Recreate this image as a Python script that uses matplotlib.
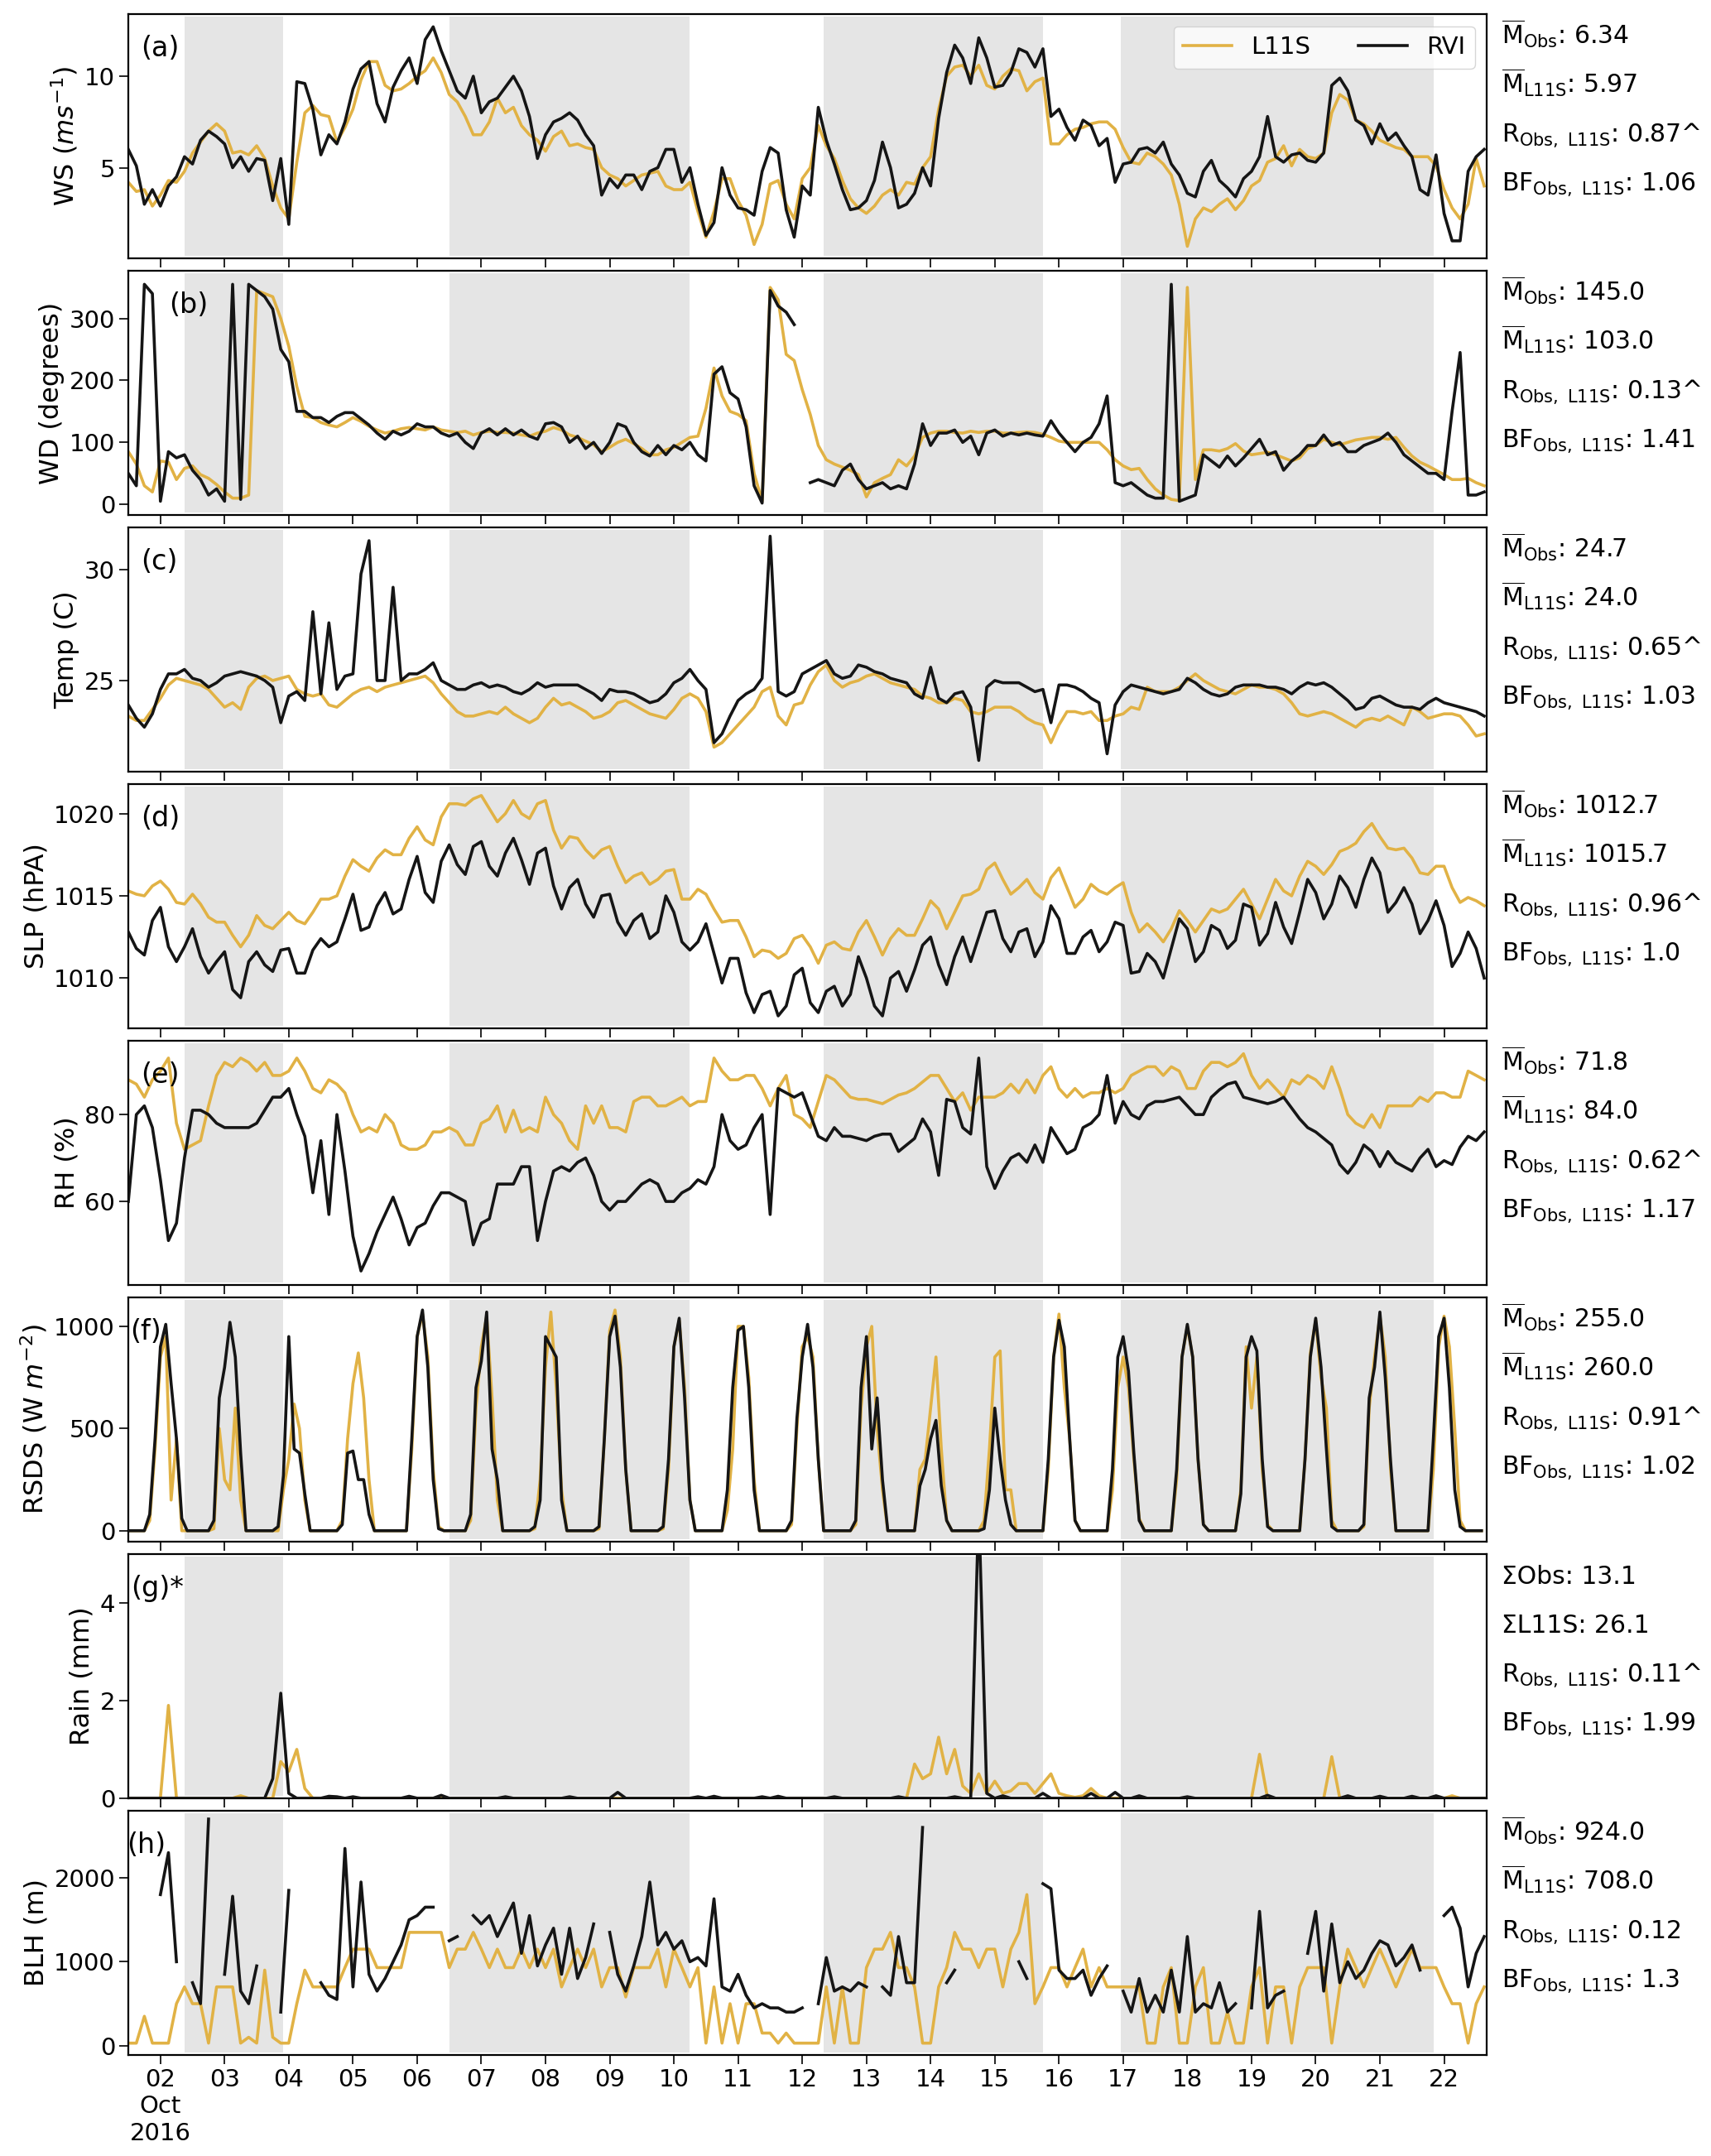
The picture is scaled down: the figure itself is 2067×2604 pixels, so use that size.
import numpy as np
import matplotlib
matplotlib.use("Agg")
import matplotlib.pyplot as plt
import matplotlib.dates as mdates
from matplotlib.ticker import FuncFormatter
from datetime import datetime, timedelta

nan = np.nan

# ---------------- data (3-hourly from 2016-10-01 12:00, one row per day) ----------------
ws_l11s = [4.2, 3.7, 3.8, 2.9,
           3.5, 4.3, 4.2, 4.8, 5.8, 6.4, 7.0, 7.4,
           7.0, 5.8, 5.9, 5.7, 6.2, 5.5, 4.0, 2.8,
           2.2, 5.3, 8.0, 8.4, 7.9, 7.8, 6.4, 7.2,
           8.2, 9.8, 10.8, 10.8, 9.5, 9.2, 9.3, 9.6,
           10.0, 10.3, 11.0, 10.2, 9.0, 8.6, 7.8, 6.8,
           6.8, 7.5, 8.8, 8.0, 8.3, 7.3, 6.8, 6.5,
           5.9, 6.7, 7.0, 6.2, 6.3, 6.1, 6.0, 5.0,
           4.6, 4.4, 4.0, 4.3, 4.6, 4.7, 4.8, 4.0,
           3.8, 3.8, 4.2, 2.6, 1.2, 2.6, 4.4, 4.4,
           3.2, 2.4, 0.8, 1.9, 4.1, 4.3, 3.0, 2.2,
           4.4, 5.0, 7.3, 6.2, 5.5, 4.3, 3.3, 2.8,
           2.5, 2.9, 3.5, 3.8, 3.5, 4.2, 4.1, 5.0,
           5.6, 8.2, 10.0, 10.5, 10.6, 10.0, 10.6, 9.5,
           9.3, 10.0, 10.4, 10.3, 9.2, 9.7, 9.9, 6.3,
           6.3, 6.8, 7.1, 7.2, 7.4, 7.5, 7.5, 7.1,
           6.1, 5.3, 5.2, 5.8, 5.6, 5.2, 4.6, 3.0,
           0.7, 2.2, 2.8, 2.6, 3.0, 3.3, 2.7, 3.2,
           4.0, 4.3, 5.3, 5.5, 6.2, 5.1, 6.0, 5.6,
           5.5, 5.8, 8.0, 9.0, 8.7, 7.6, 7.4, 7.0,
           6.5, 6.3, 6.1, 6.0, 5.6, 5.6, 5.6, 5.1,
           3.8, 2.8, 2.2, 3.0, 5.5, 4.0]
ws_rvi = [6.0, 5.1, 3.0, 3.8,
          2.9, 4.0, 4.5, 5.6, 5.2, 6.5, 7.0, 6.7,
          6.3, 5.0, 5.6, 4.8, 5.5, 5.4, 3.2, 5.5,
          1.9, 9.7, 9.6, 8.2, 5.7, 6.8, 6.3, 7.5,
          9.3, 10.4, 10.8, 8.5, 7.5, 9.4, 10.3, 11.0,
          9.6, 12.0, 12.7, 11.4, 10.3, 9.2, 8.8, 10.0,
          8.0, 8.6, 8.8, 9.4, 10.0, 9.2, 7.8, 5.5,
          6.8, 7.5, 7.7, 8.0, 7.6, 6.8, 6.2, 3.5,
          4.4, 3.9, 4.6, 4.6, 3.8, 4.8, 5.0, 6.0,
          6.0, 4.2, 5.0, 3.0, 1.3, 2.0, 5.0, 3.5,
          2.8, 2.7, 2.4, 4.8, 6.1, 5.8, 2.7, 1.2,
          4.0, 3.5, 8.3, 6.5, 5.2, 3.8, 2.7, 2.8,
          3.2, 4.3, 6.4, 5.0, 2.8, 3.0, 3.6, 5.0,
          4.0, 7.7, 10.2, 11.7, 11.0, 9.6, 12.1, 11.0,
          9.4, 9.5, 10.2, 11.5, 11.3, 10.5, 11.5, 7.8,
          8.2, 7.2, 6.5, 7.6, 7.3, 6.2, 6.6, 4.2,
          5.2, 5.3, 6.0, 6.1, 5.8, 6.4, 5.2, 4.6,
          3.6, 3.4, 4.8, 5.4, 4.3, 3.9, 3.4, 4.4,
          4.8, 5.6, 7.8, 5.6, 5.3, 5.7, 5.8, 5.4,
          5.3, 5.8, 9.5, 9.9, 9.2, 7.6, 7.3, 6.3,
          7.4, 6.5, 6.9, 6.2, 5.6, 3.8, 3.5, 5.7,
          2.5, 1.0, 1.0, 4.8, 5.6, 6.0]

wd_l11s = [85, 65, 30, 20,
           70, 68, 40, 58, 62, 48, 42, 32,
           20, 10, 10, 15, 345, 340, 335, 300,
           255, 190, 142, 140, 132, 128, 125, 132,
           140, 134, 126, 120, 115, 118, 122, 124,
           122, 120, 125, 120, 118, 116, 118, 112,
           116, 118, 116, 116, 115, 112, 110, 115,
           118, 124, 120, 112, 108, 102, 96, 85,
           92, 100, 105, 98, 90, 80, 80, 88,
           92, 100, 108, 110, 155, 220, 175, 150,
           145, 135, 50, 5, 350, 330, 242, 232,
           185, 145, 95, 72, 65, 60, 55, 48,
           12, 35, 42, 48, 72, 62, 78, 108,
           115, 118, 118, 116, 115, 118, 116, 118,
           118, 115, 115, 116, 117, 116, 113, 108,
           102, 100, 100, 100, 100, 100, 88, 72,
           62, 56, 58, 40, 25, 15, 8, 6,
           350, 40, 88, 88, 86, 90, 98, 86,
           80, 82, 84, 80, 75, 70, 75, 90,
           95, 105, 100, 96, 100, 104, 106, 108,
           108, 105, 108, 92, 78, 68, 62, 55,
           48, 40, 40, 42, 35, 30]
wd_rvi = [50, 30, 355, 340,
          5, 85, 75, 80, 55, 40, 15, 25,
          5, 355, 8, 355, 345, 335, 315, 250,
          230, 150, 150, 140, 140, 132, 142, 148,
          148, 138, 128, 115, 105, 118, 112, 118,
          130, 125, 125, 115, 110, 115, 100, 90,
          115, 122, 112, 122, 112, 120, 110, 105,
          130, 132, 125, 100, 110, 90, 100, 82,
          100, 130, 125, 100, 85, 78, 95, 80,
          95, 88, 100, 80, 70, 210, 222, 180,
          170, 125, 30, 2, 345, 320, 310, 290,
          nan, 35, 40, 35, 30, 55, 65, 40,
          25, 30, 35, 25, 30, 25, 65, 130,
          95, 115, 115, 120, 100, 110, 80, 115,
          120, 110, 115, 112, 115, 112, 110, 135,
          115, 100, 85, 100, 108, 130, 175, 35,
          30, 35, 25, 15, 10, 10, 355, 5,
          10, 15, 80, 70, 60, 78, 62, 75,
          90, 105, 80, 85, 55, 70, 80, 95,
          95, 112, 95, 100, 85, 85, 95, 100,
          105, 115, 100, 80, 70, 60, 50, 50,
          40, 150, 245, 15, 15, 20]

t_l11s = [23.4, 23.2, 23.2, 23.7,
          24.2, 24.8, 25.1, 25.0, 24.9, 24.8, 24.6, 24.2,
          23.8, 24.0, 23.7, 24.7, 25.1, 25.2, 25.0, 25.1,
          25.2, 24.6, 24.4, 24.3, 24.4, 23.9, 23.8, 24.1,
          24.4, 24.6, 24.7, 24.5, 24.7, 24.8, 24.9, 25.0,
          25.1, 25.2, 24.9, 24.4, 24.0, 23.6, 23.4, 23.4,
          23.5, 23.6, 23.5, 23.8, 23.5, 23.3, 23.1, 23.3,
          23.8, 24.2, 23.9, 24.0, 23.8, 23.6, 23.3, 23.4,
          23.6, 24.0, 24.1, 23.9, 23.7, 23.5, 23.4, 23.3,
          23.7, 24.2, 24.4, 24.2, 23.6, 22.0, 22.2, 22.6,
          23.0, 23.4, 23.8, 24.5, 24.7, 23.4, 23.0, 23.9,
          24.0, 24.8, 25.4, 25.7, 25.0, 24.7, 24.9, 25.0,
          25.2, 25.3, 25.1, 24.9, 24.8, 24.7, 24.6, 24.3,
          24.2, 24.0, 24.0, 24.2, 24.1, 23.6, 23.5, 23.6,
          23.8, 23.8, 23.8, 23.6, 23.3, 23.1, 23.0, 22.2,
          23.0, 23.6, 23.6, 23.5, 23.6, 23.2, 23.2, 23.4,
          23.5, 23.8, 23.7, 24.7, 24.5, 24.5, 24.5, 24.7,
          25.0, 25.3, 25.0, 24.8, 24.6, 24.5, 24.4, 24.6,
          24.8, 24.7, 24.7, 24.6, 24.4, 24.0, 23.5, 23.4,
          23.5, 23.6, 23.5, 23.3, 23.1, 22.9, 23.2, 23.3,
          23.2, 23.4, 23.2, 23.0, 23.8, 23.6, 23.3, 23.4,
          23.5, 23.5, 23.4, 23.0, 22.5, 22.6]
t_rvi = [23.9, 23.3, 22.9, 23.5,
         24.6, 25.3, 25.3, 25.5, 25.1, 25.0, 24.7, 24.9,
         25.2, 25.3, 25.4, 25.3, 25.2, 25.0, 24.7, 23.1,
         24.3, 24.5, 24.1, 28.1, 24.4, 27.6, 24.6, 25.2,
         25.3, 29.8, 31.3, 25.0, 25.0, 29.2, 25.0, 25.3,
         25.3, 25.5, 25.8, 25.0, 24.8, 24.6, 24.6, 24.8,
         24.9, 24.7, 24.8, 24.7, 24.5, 24.4, 24.6, 24.9,
         24.7, 24.8, 24.8, 24.8, 24.8, 24.6, 24.4, 24.1,
         24.6, 24.5, 24.5, 24.4, 24.2, 24.0, 24.1, 24.4,
         24.9, 25.1, 25.5, 25.0, 24.6, 22.2, 22.6, 23.4,
         24.1, 24.4, 24.6, 25.1, 31.5, 24.5, 24.3, 24.5,
         25.3, 25.5, 25.7, 25.9, 25.3, 25.1, 25.2, 25.7,
         25.6, 25.4, 25.3, 25.1, 25.0, 24.9, 24.4, 24.2,
         25.6, 24.2, 24.0, 24.4, 24.5, 23.8, 21.4, 24.7,
         25.0, 24.9, 24.9, 24.9, 24.7, 24.5, 24.6, 23.1,
         24.8, 24.8, 24.7, 24.5, 24.2, 24.0, 21.7, 23.9,
         24.5, 24.8, 24.7, 24.6, 24.5, 24.4, 24.5, 24.6,
         25.1, 24.9, 24.6, 24.4, 24.3, 24.4, 24.7, 24.8,
         24.8, 24.8, 24.7, 24.7, 24.6, 24.4, 24.7, 24.9,
         24.8, 24.9, 24.7, 24.4, 24.1, 23.7, 23.8, 24.2,
         24.3, 24.1, 23.9, 23.8, 23.8, 23.7, 24.0, 24.2,
         24.0, 23.9, 23.8, 23.7, 23.6, 23.4]

slp_l11s = [1015.3, 1015.1, 1015.0, 1015.6,
            1015.9, 1015.4, 1014.6, 1014.5, 1015.1, 1014.5, 1013.7, 1013.4,
            1013.4, 1012.6, 1011.9, 1012.6, 1013.8, 1013.2, 1013.0, 1013.5,
            1014.0, 1013.5, 1013.3, 1014.0, 1014.8, 1014.8, 1015.0, 1016.2,
            1017.2, 1016.8, 1016.5, 1017.3, 1017.8, 1017.5, 1017.5, 1018.5,
            1019.2, 1018.4, 1018.1, 1019.8, 1020.6, 1020.6, 1020.5, 1020.9,
            1021.1, 1020.3, 1019.5, 1020.0, 1020.8, 1020.0, 1019.7, 1020.6,
            1020.8, 1019.0, 1017.9, 1018.6, 1018.5, 1017.8, 1017.3, 1017.8,
            1018.0, 1016.8, 1015.8, 1016.2, 1016.4, 1015.7, 1016.0, 1016.5,
            1016.6, 1014.8, 1014.8, 1015.4, 1015.1, 1014.2, 1013.4, 1013.5,
            1013.5, 1012.5, 1011.3, 1011.7, 1011.6, 1011.2, 1011.5, 1012.4,
            1012.6, 1011.9, 1010.9, 1012.0, 1012.2, 1011.8, 1011.7, 1012.8,
            1013.5, 1012.5, 1011.4, 1012.4, 1013.0, 1012.6, 1012.6, 1013.6,
            1014.7, 1014.2, 1013.0, 1014.0, 1015.0, 1015.1, 1015.4, 1016.6,
            1017.0, 1016.0, 1015.1, 1015.5, 1016.0, 1015.2, 1014.8, 1016.1,
            1016.7, 1015.5, 1014.3, 1014.8, 1015.7, 1015.3, 1015.1, 1015.5,
            1015.8, 1014.0, 1012.8, 1013.3, 1012.8, 1012.2, 1013.0, 1014.1,
            1013.5, 1012.8, 1013.5, 1014.2, 1014.0, 1014.2, 1014.8, 1015.4,
            1014.5, 1013.6, 1014.8, 1016.0, 1015.3, 1015.0, 1016.2, 1017.1,
            1016.8, 1016.3, 1016.9, 1017.7, 1017.9, 1018.2, 1018.9, 1019.4,
            1018.6, 1017.9, 1017.8, 1017.9, 1017.3, 1016.4, 1016.3, 1016.8,
            1016.8, 1015.5, 1014.6, 1014.9, 1014.7, 1014.4]
slp_rvi = [1012.8, 1011.8, 1011.4, 1013.5,
           1014.3, 1011.9, 1011.0, 1011.9, 1013.0, 1011.3, 1010.3, 1011.0,
           1011.6, 1009.3, 1008.8, 1011.0, 1011.6, 1010.8, 1010.4, 1011.7,
           1011.8, 1010.3, 1010.3, 1011.7, 1012.4, 1011.9, 1012.2, 1013.6,
           1015.1, 1012.9, 1013.1, 1014.4, 1015.2, 1013.9, 1014.2, 1016.0,
           1017.4, 1015.2, 1014.6, 1017.1, 1018.1, 1016.9, 1016.3, 1018.0,
           1018.3, 1016.8, 1016.2, 1017.6, 1018.5, 1017.2, 1015.7, 1017.6,
           1017.9, 1015.6, 1014.2, 1015.5, 1016.0, 1014.5, 1013.7, 1015.0,
           1015.1, 1013.4, 1012.6, 1013.5, 1013.9, 1012.4, 1012.8, 1015.0,
           1014.0, 1012.2, 1011.7, 1012.2, 1013.3, 1011.5, 1009.7, 1011.2,
           1011.2, 1009.1, 1007.9, 1009.0, 1009.2, 1007.7, 1008.3, 1010.2,
           1010.6, 1008.5, 1007.9, 1009.2, 1009.5, 1008.3, 1009.0, 1011.3,
           1010.0, 1008.3, 1007.7, 1010.0, 1010.4, 1009.2, 1010.5, 1012.0,
           1012.5, 1010.8, 1009.6, 1011.3, 1012.5, 1011.0, 1012.5, 1014.0,
           1014.1, 1012.4, 1011.6, 1012.8, 1013.0, 1011.3, 1012.2, 1014.4,
           1013.6, 1011.5, 1011.5, 1012.5, 1012.9, 1011.6, 1012.2, 1013.4,
           1013.2, 1010.3, 1010.4, 1011.5, 1011.0, 1010.0, 1011.8, 1013.6,
           1013.0, 1011.0, 1011.6, 1013.2, 1012.9, 1011.8, 1012.3, 1014.5,
           1014.3, 1012.0, 1012.7, 1014.6, 1013.1, 1012.1, 1014.0, 1016.0,
           1015.2, 1013.6, 1014.5, 1016.2, 1015.5, 1014.3, 1016.0, 1017.3,
           1016.4, 1014.0, 1014.6, 1015.5, 1014.5, 1012.7, 1013.5, 1014.7,
           1013.2, 1010.7, 1011.5, 1012.8, 1011.8, 1010.0]

rh_l11s = [88, 87, 84, 88,
           90, 93, 78, 72, 73, 74, 82, 89,
           92, 91, 93, 92, 90, 92, 89, 89,
           90, 93, 90, 86, 85, 88, 87, 85,
           80, 76, 77, 76, 80, 78, 73, 72,
           72, 73, 76, 76, 77, 76, 73, 73,
           78, 79, 82, 76, 81, 76, 77, 76,
           84, 80, 78, 74, 72, 82, 78, 82,
           77, 77, 76, 83, 84, 84, 82, 82,
           83, 84, 82, 83, 83, 93, 90, 88,
           88, 89, 89, 86, 82, 86, 89, 80,
           79, 77, 83, 89, 88, 86, 84, 83.5,
           83.5, 83, 82.5, 83.5, 84.5, 85, 86, 87.5,
           89, 89, 86, 83, 85, 81, 84, 84,
           84, 85, 87, 85, 88, 85, 89, 91,
           86, 84, 86, 84, 85, 85, 86, 85,
           86, 89, 90, 91, 91, 89, 91, 90,
           86, 86, 90, 92, 92, 91, 92, 94,
           89, 86, 88, 86, 84, 88, 87, 89,
           88, 86, 91, 86, 80, 78, 77, 80,
           77, 82, 82, 82, 82, 84, 83, 85,
           85, 84, 84, 90, 89, 88]
rh_rvi = [60, 80, 82, 77,
          65, 51, 55, 70, 81, 81, 80, 78,
          77, 77, 77, 77, 78, 81, 84, 84,
          86, 80, 75, 62, 74, 57, 80, 67,
          52, 44, 48, 53, 57, 61, 56, 50,
          54, 55, 59, 62, 62, 61, 60, 50,
          55, 56, 64, 64, 64, 68, 68, 51,
          60, 67, 68, 67, 69, 70, 66, 60,
          58, 60, 60, 62, 64, 65, 64, 60,
          60, 62, 63, 65, 64, 68, 80, 74,
          72, 73, 77, 80, 57, 86, 85, 84,
          85, 80, 75, 74, 77, 75, 75, 74.5,
          74, 75, 75.5, 75.5, 71.5, 73, 74.5, 79,
          76, 66, 83.5, 83, 77, 75.5, 93, 68,
          63, 67, 70, 71, 69, 73, 69, 77,
          74, 71, 72, 77, 78, 80, 89, 78,
          83, 80, 79, 82, 83, 83, 83.5, 84,
          82, 80, 80, 84, 85.7, 87, 87.5, 84,
          83.5, 83, 82.5, 83, 84, 81.5, 79, 77,
          76, 74.5, 73, 68.5, 66.5, 69, 73, 71.5,
          68, 71.5, 69, 68, 67, 70, 72, 68,
          69.4, 68.5, 72.5, 75, 74, 76]

# RSDS: 2-hourly from 2016-10-01 12:00 (rows: 12,14,16,18,20,22,00,02,04,06,08,10 h)
rsds_l11s = [0, 0, 0, 0, 50, 400, 850, 950, 150, 450, 0, 0,
             0, 0, 0, 0, 10, 500, 250, 200, 600, 150, 0, 0,
             0, 0, 0, 0, 0, 200, 350, 620, 500, 150, 0, 0,
             0, 0, 0, 0, 50, 450, 720, 870, 650, 250, 0, 0,
             0, 0, 0, 0, 0, 400, 950, 1060, 850, 300, 20, 0,
             0, 0, 0, 0, 50, 600, 900, 1050, 650, 150, 0, 0,
             0, 0, 0, 0, 10, 250, 800, 1070, 700, 200, 0, 0,
             0, 0, 0, 0, 10, 450, 980, 1080, 850, 300, 0, 0,
             0, 0, 0, 0, 10, 300, 900, 1030, 700, 150, 0, 0,
             0, 0, 0, 0, 100, 400, 1000, 1000, 750, 250, 0, 0,
             0, 0, 0, 0, 30, 500, 900, 950, 850, 350, 0, 0,
             0, 0, 0, 0, 30, 600, 900, 1000, 500, 200, 0, 0,
             0, 0, 0, 0, 300, 350, 600, 850, 400, 50, 0, 0,
             0, 0, 0, 0, 50, 400, 850, 880, 200, 200, 0, 0,
             0, 0, 0, 0, 300, 850, 1060, 700, 450, 50, 0, 0,
             0, 0, 0, 0, 200, 700, 850, 700, 350, 60, 0, 0,
             0, 0, 0, 0, 250, 850, 1000, 850, 350, 30, 0, 0,
             0, 0, 0, 0, 200, 900, 600, 850, 300, 30, 0, 0,
             0, 0, 0, 0, 350, 870, 1030, 750, 600, 50, 0, 0,
             0, 0, 0, 20, 600, 850, 1050, 850, 300, 0, 0, 0,
             0, 0, 0, 0, 300, 900, 1050, 900, 500, 50, 0, 0, 0, 0]
rsds_rvi = [0, 0, 0, 0, 80, 450, 900, 1010, 720, 450, 60, 0,
            0, 0, 0, 0, 50, 650, 800, 1020, 850, 380, 0, 0,
            0, 0, 0, 0, 20, 270, 950, 400, 380, 180, 0, 0,
            0, 0, 0, 0, 30, 380, 390, 250, 250, 80, 0, 0,
            0, 0, 0, 0, 0, 450, 950, 1080, 800, 250, 10, 0,
            0, 0, 0, 0, 80, 700, 830, 1070, 400, 250, 0, 0,
            0, 0, 0, 0, 20, 150, 950, 900, 850, 150, 0, 0,
            0, 0, 0, 0, 20, 450, 950, 1050, 800, 300, 0, 0,
            0, 0, 0, 0, 20, 350, 900, 1040, 650, 150, 0, 0,
            0, 0, 0, 0, 200, 700, 980, 1000, 700, 200, 0, 0,
            0, 0, 0, 0, 50, 550, 850, 1010, 800, 350, 0, 0,
            0, 0, 0, 0, 50, 700, 950, 400, 650, 250, 0, 0,
            0, 0, 0, 0, 220, 300, 450, 540, 220, 50, 0, 0,
            0, 0, 0, 0, 10, 200, 600, 350, 150, 30, 0, 0,
            0, 0, 0, 0, 350, 850, 1030, 900, 450, 50, 0, 0,
            0, 0, 0, 0, 300, 850, 950, 780, 380, 50, 0, 0,
            0, 0, 0, 0, 300, 850, 1010, 850, 350, 30, 0, 0,
            0, 0, 0, 0, 180, 850, 950, 880, 350, 20, 0, 0,
            0, 0, 0, 0, 350, 850, 1040, 800, 400, 20, 0, 0,
            0, 0, 0, 30, 650, 800, 1070, 750, 340, 0, 0, 0,
            0, 0, 0, 0, 450, 950, 1040, 700, 200, 20, 0, 0, 0, 0]

rain_l11s = [0, 0, 0, 0,
             0, 1.9, 0, 0, 0, 0, 0, 0,
             0, 0, 0.05, 0, 0, 0, 0, 0.75,
             0.55, 1.0, 0.2, 0, 0, 0, 0, 0,
             0, 0, 0, 0, 0, 0, 0, 0,
             0, 0, 0, 0, 0, 0, 0, 0,
             0, 0, 0, 0, 0, 0, 0, 0,
             0, 0, 0, 0, 0, 0, 0, 0,
             0, 0, 0, 0, 0, 0, 0, 0,
             0, 0, 0, 0, 0, 0, 0, 0,
             0, 0, 0, 0, 0, 0, 0, 0,
             0, 0, 0, 0, 0, 0, 0, 0,
             0, 0, 0, 0, 0, 0, 0.7, 0.4,
             0.5, 1.25, 0.5, 1.0, 0.25, 0.1, 0.5, 0.1,
             0.35, 0.1, 0.15, 0.3, 0.3, 0.1, 0.3, 0.5,
             0.1, 0.05, 0.02, 0.05, 0.2, 0.05, 0, 0,
             0, 0, 0, 0, 0, 0, 0, 0,
             0, 0, 0, 0, 0, 0, 0, 0,
             0, 0.9, 0, 0, 0, 0, 0, 0,
             0, 0, 0.85, 0, 0, 0, 0, 0,
             0, 0, 0, 0, 0, 0, 0, 0,
             0, 0.05, 0, 0, 0, 0]
rain_rvi = [0, 0, 0, 0,
            0, 0, 0, 0, 0, 0, 0, 0,
            0, 0, 0, 0, 0, 0, 0.4, 2.15,
            0.1, 0, 0, 0, 0, 0.04, 0.03, 0,
            0.03, 0, 0, 0, 0, 0, 0, 0.04,
            0, 0, 0, 0.06, 0, 0, 0, 0,
            0, 0, 0, 0.03, 0, 0, 0, 0,
            0, 0, 0, 0.03, 0, 0, 0, 0,
            0, 0.12, 0, 0, 0, 0, 0, 0,
            0, 0, 0, 0.03, 0, 0.04, 0, 0,
            0, 0, 0, 0.03, 0, 0.04, 0, 0,
            0, 0, 0, 0, 0.03, 0, 0, 0,
            0, 0, 0, 0, 0.03, 0, 0, 0,
            0, 0, 0, 0.03, 0, 0, 6.0, 0.1,
            0, 0.05, 0, 0, 0, 0, 0.1, 0,
            0, 0, 0, 0, 0.1, 0, 0, 0.12,
            0, 0, 0.05, 0, 0, 0, 0, 0,
            0.03, 0, 0, 0, 0, 0, 0, 0,
            0, 0, 0.06, 0, 0, 0, 0, 0,
            0, 0, 0, 0, 0.05, 0, 0, 0,
            0.04, 0, 0, 0, 0.04, 0, 0, 0.05,
            0, 0, 0, 0, 0, 0]

blh_l11s = [30, 30, 350, 30,
            30, 30, 500, 700, 500, 500, 30, 700,
            700, 700, 30, 100, 30, 900, 100, 30,
            30, 500, 900, 700, 700, 700, 700, 930,
            1150, 1150, 1150, 930, 930, 930, 930, 1350,
            1350, 1350, 1350, 1350, 930, 1150, 1150, 1350,
            1150, 930, 1150, 930, 930, 1150, 930, 1150,
            930, 1150, 700, 930, 1150, 930, 1150, 700,
            930, 930, 580, 930, 930, 930, 1150, 700,
            1150, 930, 700, 930, 30, 700, 30, 500,
            30, 500, 500, 150, 150, 30, 150, 30,
            30, 30, 30, 700, 30, 700, 30, 30,
            930, 1150, 1150, 1350, 930, 930, 700, 30,
            30, 700, 930, 1350, 1150, 1150, 930, 1150,
            1150, 700, 1150, 1350, 1800, 500, 700, 930,
            930, 700, 930, 1150, 700, 930, 700, 700,
            700, 700, 700, 30, 30, 700, 930, 30,
            30, 700, 930, 30, 30, 400, 30, 30,
            700, 930, 30, 700, 700, 30, 700, 930,
            930, 930, 30, 700, 1150, 930, 700, 930,
            1150, 930, 700, 930, 1150, 930, 930, 930,
            700, 500, 500, 30, 500, 700]
blh_rvi = [nan, nan, nan, nan,
           1800, 2300, 1000, nan, 750, 500, 2700, nan,
           850, 1780, 650, 500, 950, nan, nan, 400,
           1850, nan, nan, nan, 750, 600, 550, 2350,
           700, 1950, 850, 650, 800, 1000, 1200, 1500,
           1550, 1650, 1650, nan, 1250, 1300, nan, 1550,
           1450, 1550, 1300, 1500, 1700, 1100, 1550, 950,
           1200, 1400, 850, 1400, 800, 1050, 1450, nan,
           1350, 850, 650, 950, 1300, 1950, 1200, 1350,
           1150, 1250, 1000, 1050, 950, 1750, 700, 650,
           850, 600, 450, 500, 450, 450, 400, 400,
           450, nan, 500, 1050, 650, 700, 650, 750,
           700, nan, 700, 600, 1300, 750, 750, 2600,
           nan, nan, 750, 900, nan, nan, nan, nan,
           nan, nan, nan, 1000, 800, nan, 1930, 1870,
           900, 800, 800, 900, 600, 800, 950, nan,
           650, 400, 800, 400, 600, 400, 900, 400,
           1300, 400, 500, 450, 750, 400, 500, nan,
           450, 1600, 450, 600, 650, nan, nan, 1100,
           1600, 650, 1450, 750, 1000, 800, 900, 1100,
           1250, 1200, 950, 1050, 1200, 900, nan, nan,
           1550, 1650, 1400, 700, 1100, 1300]

# statistics shown at right of each panel
stats_a = ['6.34', '5.97', '0.87^', '1.06']
stats_b = ['145.0', '103.0', '0.13^', '1.41']
stats_c = ['24.7', '24.0', '0.65^', '1.03']
stats_d = ['1012.7', '1015.7', '0.96^', '1.0']
stats_e = ['71.8', '84.0', '0.62^', '1.17']
stats_f = ['255.0', '260.0', '0.91^', '1.02']
stats_g = ['13.1', '26.1', '0.11^', '1.99']
stats_h = ['924.0', '708.0', '0.12', '1.3']

# shaded periods
shade_periods = [(datetime(2016, 10, 2, 9), datetime(2016, 10, 3, 22)),
                 (datetime(2016, 10, 6, 12), datetime(2016, 10, 10, 6)),
                 (datetime(2016, 10, 12, 8), datetime(2016, 10, 15, 18)),
                 (datetime(2016, 10, 16, 23), datetime(2016, 10, 21, 20))]

# ---------------- plotting ----------------
plt.rcParams['font.family'] = ['DejaVu Sans']
plt.rcParams['mathtext.default'] = 'regular'

GOLD = '#E1B245'
BLACK = '#151515'
SHADE = '#e5e5e5'

start = datetime(2016, 10, 1, 12)


def times(n, step_h):
    return [start + timedelta(hours=step_h * k) for k in range(n)]


panels = [
    (ws_l11s, ws_rvi, 3, r'WS ($\mathit{ms}^{-1}$)', [5, 10], (0.05, 13.4), '(a)', 0.009, stats_a),
    (wd_l11s, wd_rvi, 3, 'WD (degrees)', [0, 100, 200, 300], (-17, 377), '(b)', 0.030, stats_b),
    (t_l11s, t_rvi, 3, 'Temp (C)', [25, 30], (20.9, 31.9), '(c)', 0.009, stats_c),
    (slp_l11s, slp_rvi, 3, 'SLP (hPA)', [1010, 1015, 1020], (1006.95, 1021.8), '(d)', 0.009, stats_d),
    (rh_l11s, rh_rvi, 3, 'RH (%)', [60, 80], (40.8, 97.0), '(e)', 0.009, stats_e),
    (rsds_l11s, rsds_rvi, 2, r'RSDS (W $\mathit{m}^{-2}$)', [0, 500, 1000], (-53, 1142), '(f)', 0.001, stats_f),
    (rain_l11s, rain_rvi, 3, 'Rain (mm)', [0, 2, 4], (0, 5), '(g)*', 0.002, stats_g),
    (blh_l11s, blh_rvi, 3, 'BLH (m)', [0, 1000, 2000], (-110, 2800), '(h)', -0.001, stats_h),
]

fig, axes = plt.subplots(8, 1, sharex=True, figsize=(20.67, 26.04), dpi=100)
fig.subplots_adjust(left=0.075, right=0.869, top=0.9935, bottom=0.0469, hspace=0.051)

for ax, (mod, obs, step, ylab, yt, yl, tag, tagx, st) in zip(axes, panels):
    assert len(mod) == len(obs), (tag, len(mod), len(obs))
    tt = times(len(mod), step)
    for s0, s1 in shade_periods:
        ax.axvspan(s0, s1, ymin=0.009, ymax=0.989, color=SHADE, lw=0, zorder=0)
    ax.plot(tt, mod, color=GOLD, lw=2.6, label='L11S', zorder=2)
    ax.plot(tt, obs, color=BLACK, lw=2.6, label='RVI', zorder=3)
    ax.set_ylim(*yl)
    ax.set_yticks(yt)
    ax.set_ylabel(ylab, fontsize=23)
    ax.tick_params(axis='both', labelsize=21, length=8, width=1.2)
    for sp in ax.spines.values():
        sp.set_linewidth(1.6)
    ax.text(tagx, 0.86, tag, transform=ax.transAxes, fontsize=24, ha='left', va='center', zorder=5)
    if tag == '(g)*':
        lines = ['\u03a3Obs: ' + st[0], '\u03a3L11S: ' + st[1]]
    else:
        lines = [r'$\overline{M}_{Obs}$: ' + st[0], r'$\overline{M}_{L11S}$: ' + st[1]]
    lines += [r'$R_{Obs,\ L11S}$: ' + st[2], r'$BF_{Obs,\ L11S}$: ' + st[3]]
    for n, txt in enumerate(lines):
        ax.text(1.011, 0.878 - 0.2 * n, txt, transform=ax.transAxes, fontsize=21.5,
                ha='left', va='baseline')

axes[0].legend(loc='upper right', ncol=2, fontsize=21, framealpha=0.8)

axes[-1].set_xlim(datetime(2016, 10, 1, 12), datetime(2016, 10, 22, 16))
axes[-1].xaxis.set_major_locator(mdates.DayLocator())


def day_fmt(x, pos=None):
    d = mdates.num2date(x)
    if d.day == 2 and d.month == 10:
        return '02\nOct\n2016'
    return d.strftime('%d')


axes[-1].xaxis.set_major_formatter(FuncFormatter(day_fmt))

fig.savefig('out.png', dpi=100)
